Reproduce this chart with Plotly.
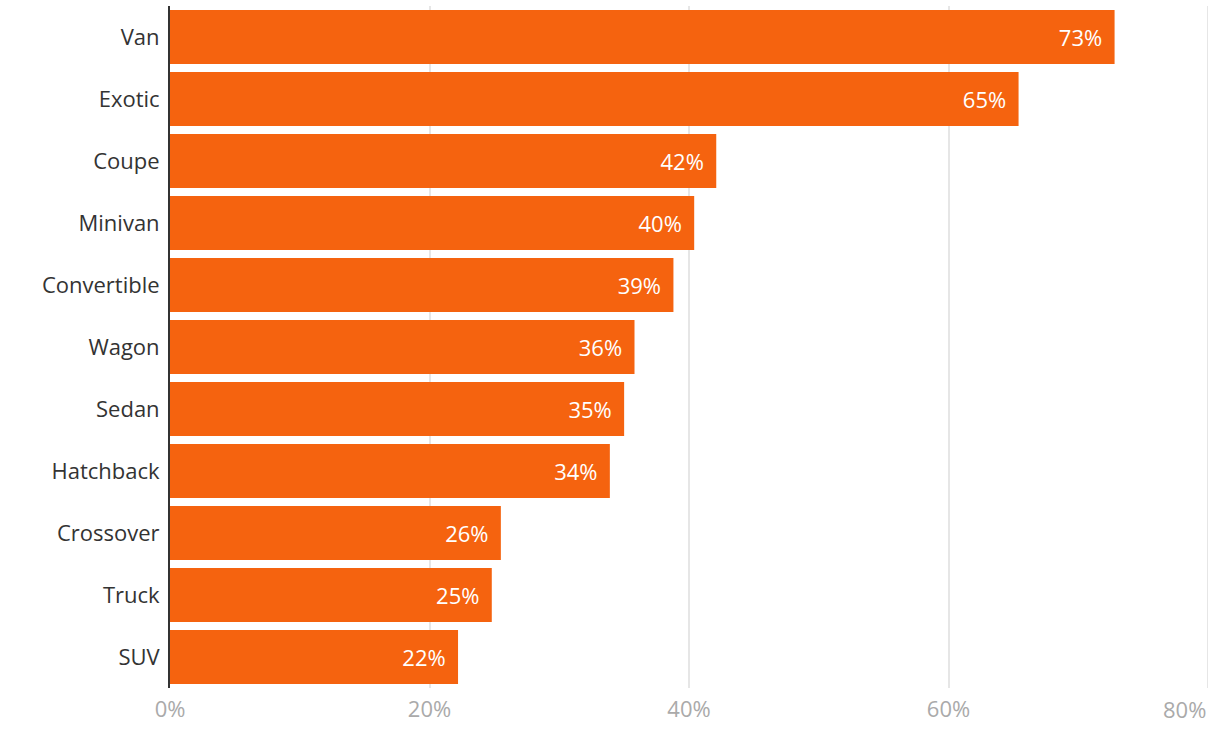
import plotly.graph_objects as go

# Share of listings by body style
categories = ["Van", "Exotic", "Coupe", "Minivan", "Convertible", "Wagon",
              "Sedan", "Hatchback", "Crossover", "Truck", "SUV"]
values = [72.8, 65.4, 42.1, 40.4, 38.8, 35.8, 35.0, 33.9, 25.5, 24.8, 22.2]
labels = ["73%", "65%", "42%", "40%", "39%", "36%", "35%", "34%", "26%", "25%", "22%"]
x_ticks = [0, 20, 40, 60, 80]
x_tick_labels = ["0%", "20%", "40%", "60%", "80%"]

FONT = "Open Sans"

fig = go.Figure()
fig.add_trace(
    go.Bar(
        x=values,
        y=categories,
        orientation="h",
        marker=dict(color="#f5630f", line=dict(width=0)),
        # a little padding so the label sits off the bar end like the reference
        text=[t + "\u00a0\u2009" for t in labels],
        textposition="inside",
        insidetextanchor="end",
        textfont=dict(family=FONT, size=22, color="white"),
        hoverinfo="skip",
    )
)

# gridline at the far edge (plotly skips it at the range end)
fig.add_vline(x=x_ticks[-1], line=dict(color="#e6e6e6", width=2), layer="below")

# last tick label is pulled inside the plot (right aligned), as in the reference
fig.add_annotation(
    x=x_ticks[-1], y=0, xref="x", yref="paper",
    text=x_tick_labels[-1], showarrow=False,
    xanchor="right", yanchor="top", yshift=-4,
    font=dict(family=FONT, size=22, color="#aaaaaa"),
)

fig.update_layout(
    width=1220,
    height=732,
    margin=dict(l=170, r=12, t=6, b=44),
    paper_bgcolor="white",
    plot_bgcolor="white",
    bargap=0.13,
    showlegend=False,
    font=dict(family=FONT),
    xaxis=dict(
        range=[0, 80],
        tickvals=x_ticks,
        ticktext=x_tick_labels[:-1] + [""],
        showgrid=True,
        gridcolor="#e6e6e6",
        gridwidth=2,
        zeroline=False,
        showline=False,
        automargin=False,
        ticklabelstandoff=6,
        tickfont=dict(family=FONT, size=22, color="#aaaaaa"),
        fixedrange=True,
    ),
    yaxis=dict(
        autorange="reversed",
        showgrid=False,
        showline=True,
        linecolor="#333333",
        linewidth=2,
        ticks="",
        ticklabelstandoff=4,
        automargin=False,
        tickfont=dict(family=FONT, size=22, color="#333333"),
        fixedrange=True,
    ),
)

fig.write_html(
    "out.html",
    config={"displayModeBar": False},
    post_script="document.body.style.margin='0';",
)
